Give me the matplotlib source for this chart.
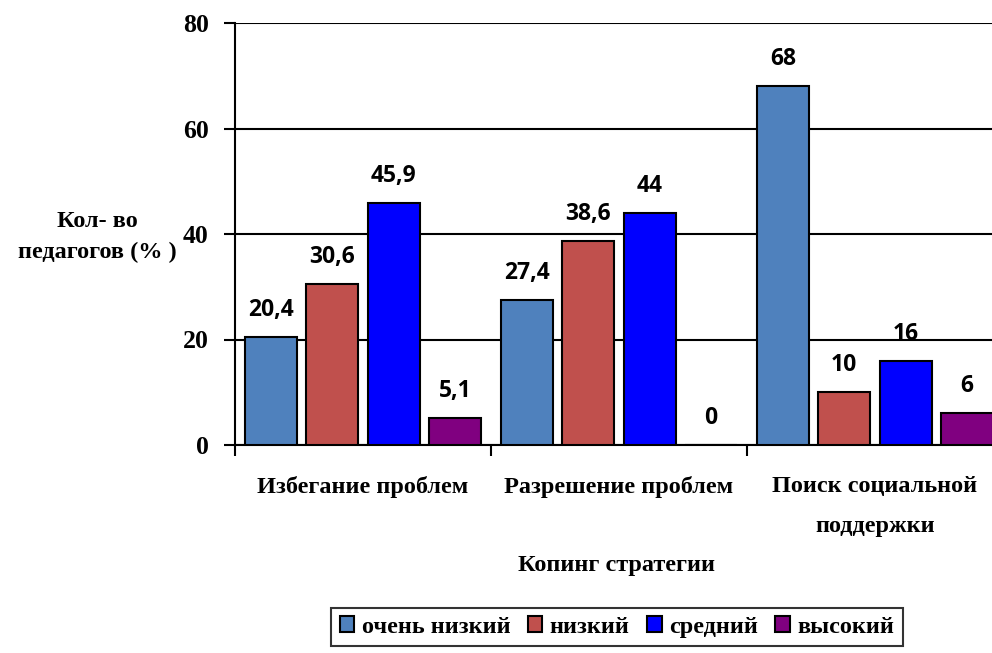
import matplotlib
matplotlib.use("Agg")
import matplotlib.pyplot as plt
import numpy as np
from matplotlib.patches import Patch

categories = ["Избегание проблем", "Разрешение проблем", "Поиск социальной\nподдержки"]
levels = ["очень низкий", "низкий", "средний", "высокий"]
values = {
    "очень низкий": [20.4, 27.4, 68],
    "низкий": [30.6, 38.6, 10],
    "средний": [45.9, 44, 16],
    "высокий": [5.1, 0, 6],
}
value_labels = {
    "очень низкий": ["20,4", "27,4", "68"],
    "низкий": ["30,6", "38,6", "10"],
    "средний": ["45,9", "44", "16"],
    "высокий": ["5,1", "0", "6"],
}
colors = ["#4F81BD", "#C0504D", "#0000FF", "#800080"]

serif = "Liberation Serif"
label_font = "Open Sans"

fig = plt.figure(figsize=(9.92, 6.53), dpi=100)
ax = fig.add_axes([235 / 992, 1 - 445 / 653, 1 - 235 / 992, (445 - 23) / 653])

centers = np.arange(len(categories)) + 0.5
step = 0.24
width = 0.203
for i, (level, color) in enumerate(zip(levels, colors)):
    xs = centers + (i - 1.5) * step
    ax.bar(xs, values[level], width=width, color=color, edgecolor="black",
           linewidth=1.5, zorder=3, clip_on=True)
    for x, v, txt in zip(xs, values[level], value_labels[level]):
        ax.annotate(txt, (x, v), xytext=(0, 19.5), textcoords="offset points",
                    ha="center", va="center", fontsize=16.5, fontweight="bold",
                    family=label_font, annotation_clip=False)

ax.set_xlim(0, 757 / 256)
ax.set_ylim(0, 80)
ax.set_yticks([0, 20, 40, 60, 80])
ax.set_yticklabels(["0", "20", "40", "60", "80"], family=serif,
                   fontsize=18.5, fontweight="bold")
ax.yaxis.grid(True, color="black", linewidth=1.5, zorder=0)
ax.tick_params(axis="y", length=8, width=1.5, pad=11)

ax.set_xticks([0, 1, 2])
ax.set_xticklabels([])
ax.tick_params(axis="x", which="major", length=8, width=1.5)
ax.set_xticks(centers, minor=True)
ax.set_xticklabels(categories, minor=True, family=serif, fontsize=17.5,
                   fontweight="bold", va="top")
ax.tick_params(axis="x", which="minor", length=0, pad=22.5)
for lab in ax.get_xticklabels(minor=True):
    lab.set_linespacing(2.2)

for side in ["top", "right"]:
    ax.spines[side].set_visible(False)
for side in ["left", "bottom"]:
    ax.spines[side].set_linewidth(1.5)

fig.text(97 / 992, 1 - 237 / 653, "Кол- во\nпедагогов (% )", ha="center",
         va="center", family=serif, fontsize=17.5, fontweight="bold",
         linespacing=1.67)
fig.text(617 / 992, 1 - 565 / 653, "Копинг стратегии", ha="center",
         va="center", family=serif, fontsize=17.5, fontweight="bold")

handles = [Patch(facecolor=c, edgecolor="black", linewidth=1.5) for c in colors]
leg = fig.legend(handles, levels, loc="center", bbox_to_anchor=(617 / 992, 1 - 627 / 653),
                 ncol=4, frameon=True, fancybox=False, handlelength=0.6,
                 handleheight=0.6, handletextpad=0.3, columnspacing=0.72,
                 borderpad=0.35, prop={"family": serif, "size": 17.5, "weight": "bold"})
leg.get_frame().set_edgecolor("black")
leg.get_frame().set_linewidth(1.5)

fig.savefig("out.png", dpi=100)
